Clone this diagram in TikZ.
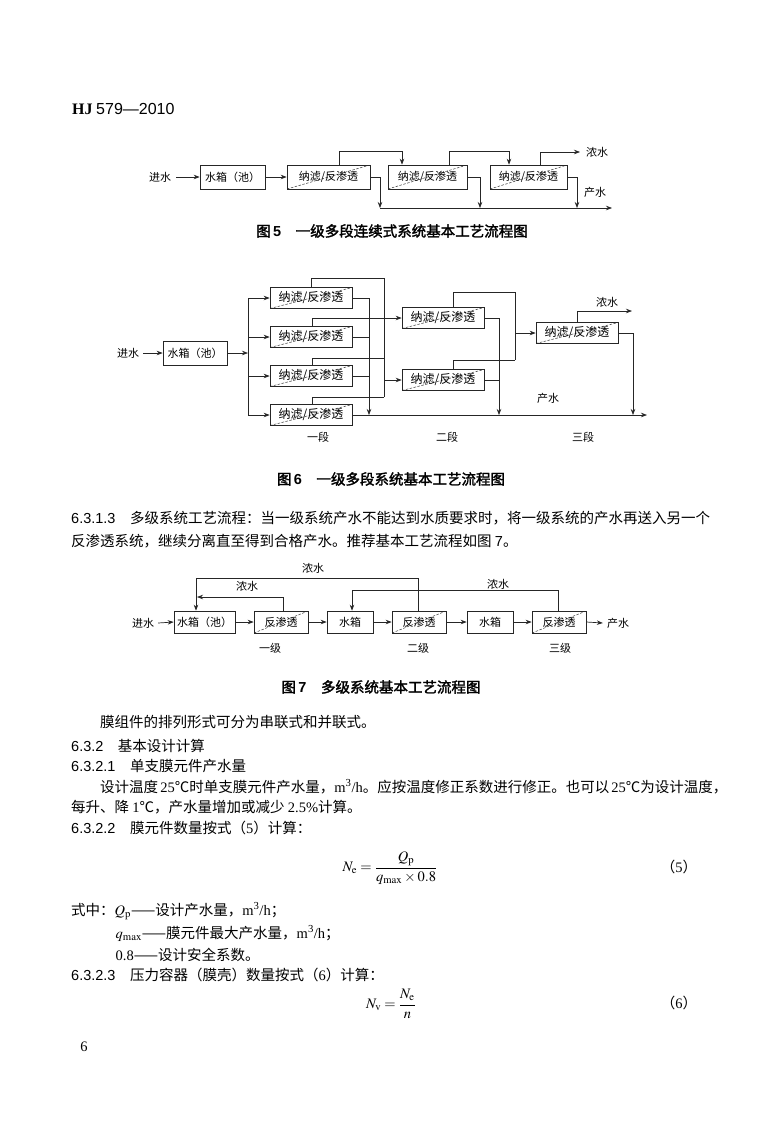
\documentclass[tikz,border=0pt]{standalone}
\usepackage{mathptmx}
\usepackage[no-math]{fontspec}
\setmainfont{Noto Sans CJK SC}
\newfontfamily\tnr{Liberation Serif}
\newfontfamily\arl{Liberation Sans}
\newfontfamily\cjkb{Noto Sans CJK SC}[FakeBold=2]
\usetikzlibrary{arrows.meta}
\XeTeXlinebreaklocale "zh"
\XeTeXlinebreakskip=0pt plus 2pt minus 0.4pt
\newcommand\dfont{\fontsize{11}{13}\selectfont}
\newcommand\efont{\fontsize{12}{14}\selectfont}
\newcommand\bfont{\fontsize{14.5}{17}\selectfont}
\tikzset{
  box/.style={draw=black!85, line width=0.7pt, minimum height=21pt, inner sep=0pt, font=\dfont},
  diagline/.style={dash pattern=on 2.5pt off 1.5pt, line width=0.5pt, draw=black!80},
  rbox/.style={box, path picture={\draw[diagline] (path picture bounding box.south west) -- (path picture bounding box.north east);}},
  sbox/.style={rbox, minimum width=82pt, font=\efont},
  arr/.style={-{Stealth[length=6pt,width=4.5pt]}, line width=0.7pt, draw=black!85},
  ln/.style={line width=0.7pt, draw=black!85},
  lbl/.style={inner sep=0pt, font=\dfont},
  txt/.style={inner sep=0pt, anchor=base west, font=\bfont},
  captxt/.style={inner sep=0pt, font=\bfont}
}
\begin{document}
\begin{tikzpicture}[x=1pt,y=-1pt]
\fill[white] (0,0) rectangle (780,1125);
\useasboundingbox (0,0) rectangle (780,1125);

% header
\node[inner sep=0pt, anchor=base west, font=\fontsize{16}{18}\selectfont] (hdr) at (72,114) {{\tnr\bfseries HJ} {\arl 579—2010}};

% ---------------- Figure 5 ----------------
\node[lbl] (in5) at (160,177) {进水};
\node[box, minimum width=65pt, minimum height=24pt] (t5) at (232.5,177) {水箱（池）};
\node[rbox, minimum width=83pt, minimum height=24pt] (b51) at (328.5,177) {纳滤/反渗透};
\node[rbox, minimum width=79pt, minimum height=24pt] (b52) at (427.5,177) {纳滤/反渗透};
\node[rbox, minimum width=77pt, minimum height=24pt] (b53) at (528.5,177) {纳滤/反渗透};
\draw[arr] ([xshift=5pt]in5.east) -- (t5.west);
\draw[arr] (t5.east) -- (b51.west);
\draw[arr] ([xshift=10.5pt]b51.north) -- ++(0,-13) -| ([xshift=-25.5pt]b52.north);
\draw[arr] ([xshift=21.5pt]b52.north) -- ++(0,-13) -| ([xshift=-19.5pt]b53.north);
\coordinate (c5) at (580,152);
\draw[arr] ([xshift=11.5pt]b53.north) |- (c5);
\coordinate (p5a) at (380,208);
\coordinate (p5b) at (480,208);
\coordinate (p5c) at (577,208);
\coordinate (p5e) at (612,208);
\draw[arr] (b51.east) -| (p5a);
\draw[arr] (b52.east) -| (p5b);
\draw[arr] (b53.east) -| (p5c);
\draw[arr] (p5a) -- (p5e);
\node[lbl] (n5) at (597,152) {浓水};
\node[lbl] (o5) at (595,192) {产水};
\node[captxt] (cap5) at (392,231) {{\cjkb 图}\,{\arl\bfseries 5}\hspace{1em}{\cjkb 一级多段连续式系统基本工艺流程图}};

% ---------------- Figure 6 ----------------
\node[lbl] (in6) at (128,353) {进水};
\node[box, minimum width=64pt, minimum height=24pt] (t6) at (195,353) {水箱（池）};
\coordinate (j6) at (248,353);
\draw[arr] ([xshift=4pt]in6.east) -- (t6.west);
\draw[arr] (t6.east) -- (j6);
\node[sbox] (a1) at (311,298) {纳滤/反渗透};
\node[sbox] (a2) at (311,337) {纳滤/反渗透};
\node[sbox] (a3) at (311,376) {纳滤/反渗透};
\node[sbox] (a4) at (311,415) {纳滤/反渗透};
\node[sbox] (b1) at (443,318) {纳滤/反渗透};
\node[sbox] (b2) at (443,380) {纳滤/反渗透};
\node[sbox] (c1) at (577,333) {纳滤/反渗透};
\draw[ln] (a1.west -| j6) -- (a4.west -| j6);
\draw[arr] (a1.west -| j6) -- (a1.west);
\draw[arr] (a2.west -| j6) -- (a2.west);
\draw[arr] (a3.west -| j6) -- (a3.west);
\draw[arr] (a4.west -| j6) -- (a4.west);
% product of stage 1
\coordinate (p6a) at (369,415);
\coordinate (p6b) at (499,415);
\coordinate (p6c) at (633,415);
\coordinate (p6e) at (647,415);
\draw[arr] (a1.east) -| (p6a);
\draw[ln] (a2.east) -- (a2.east -| p6a);
\draw[ln] (a3.east) -- (a3.east -| p6a);
\draw[arr] (a4.east) -- (p6e);
% concentrate of stage 1
\coordinate (k1) at (384,278);
\coordinate (k3) at (384,358);
\coordinate (k4) at (384,397);
\draw[ln] (a1.north) |- (k1) -- (k4);
\draw[ln] ([xshift=1pt]a3.north) |- (k3);
\draw[ln] ([xshift=1pt]a4.north) |- (k4);
\draw[arr] ([xshift=1pt]a2.north) |- (b1.west);
\draw[arr] (b2.west -| k1) -- (b2.west);
% stage 2
\coordinate (m1) at (515,292);
\coordinate (m2) at (515,360);
\draw[ln] ([xshift=10pt]b1.north) |- (m1) -- (m2);
\draw[ln] ([xshift=10pt]b2.north) |- (m2);
\draw[arr] (c1.west -| m1) -- (c1.west);
\draw[arr] (b1.east) -| (p6b);
\draw[ln] (b2.east) -- (b2.east -| p6b);
% stage 3
\coordinate (c6) at (632,311);
\draw[arr] (c1.north) |- (c6);
\draw[arr] (c1.east) -| (p6c);
\node[lbl] (n6) at (607,302) {浓水};
\node[lbl] (o6) at (548,398) {产水};
\node[lbl] (s61) at (318,437) {一段};
\node[lbl] (s62) at (447,437) {二段};
\node[lbl] (s63) at (583,437) {三段};
\node[captxt] (cap6) at (391,479) {{\cjkb 图}\,{\arl\bfseries 6}\hspace{1em}{\cjkb 一级多段系统基本工艺流程图}};

% ---------------- text ----------------
\node[txt] (l1) at (71,523) {\hbox to 637pt{{\arl 6.3.1.3}\hspace{1em}多级系统工艺流程：当一级系统产水不能达到水质要求时，将一级系统的产水再送入另一个}};
\node[txt] (l2) at (71,546) {反渗透系统，继续分离直至得到合格产水。推荐基本工艺流程如图 {\arl 7}。};

% ---------------- Figure 7 ----------------
\node[lbl] (in7) at (143,623) {进水};
\node[box, minimum width=61pt, minimum height=22pt] (d1) at (204.5,622) {水箱（池）};
\node[rbox, minimum width=54pt, minimum height=22pt] (e1) at (281,622) {反渗透};
\node[box, minimum width=46pt, minimum height=22pt] (d2) at (350,622) {水箱};
\node[rbox, minimum width=54pt, minimum height=22pt] (e2) at (419,622) {反渗透};
\node[box, minimum width=46pt, minimum height=22pt] (d3) at (490,622) {水箱};
\node[rbox, minimum width=54pt, minimum height=22pt] (e3) at (559,622) {反渗透};
\node[lbl] (out7) at (618,623) {产水};
\draw[arr] ([xshift=4pt]in7.east) -- (d1.west);
\draw[arr] (d1.east) -- (e1.west);
\draw[arr] (e1.east) -- (d2.west);
\draw[arr] (d2.east) -- (e2.west);
\draw[arr] (e2.east) -- (d3.west);
\draw[arr] (d3.east) -- (e3.west);
\draw[arr] (e3.east) -- ([xshift=-4pt]out7.west);
\coordinate (f1) at (197,597);
\coordinate (f2) at (196,578);
\coordinate (f3) at (352,590);
\draw[arr] ([xshift=2pt]e1.north) |- (f1);
\draw[arr] ([xshift=-1pt]e2.north) |- (f2) -- (f2 |- d1.north);
\draw[arr] ([xshift=-1pt]e3.north) |- (f3) -- (f3 |- d2.north);
\node[lbl] (n71) at (313,568) {浓水};
\node[lbl] (n72) at (247,586) {浓水};
\node[lbl] (n73) at (498,584) {浓水};
\node[lbl] (s71) at (270,648) {一级};
\node[lbl] (s72) at (418,648) {二级};
\node[lbl] (s73) at (560,648) {三级};
\node[captxt] (cap7) at (381,687) {{\cjkb 图}\,{\arl\bfseries 7}\hspace{1em}{\cjkb 多级系统基本工艺流程图}};

% ---------------- text ----------------
\node[txt] (l3) at (100,727) {膜组件的排列形式可分为串联式和并联式。};
\node[txt] (l4) at (71,751) {{\arl 6.3.2}\hspace{1em}基本设计计算};
\node[txt] (l5) at (71,771) {{\arl 6.3.2.1}\hspace{1em}单支膜元件产水量};
\node[txt] (l6) at (100,792) {\hbox to 608pt{设计温度 {\tnr 25}℃时单支膜元件产水量，{\tnr m\textsuperscript{3}/h}。应按温度修正系数进行修正。也可以 {\tnr 25}℃为设计温度，}};
\node[txt] (l7) at (71,812) {每升、降 {\tnr 1}℃，产水量增加或减少 {\tnr 2.5\%}计算。};
\node[txt] (l8) at (71,833) {{\arl 6.3.2.2}\hspace{1em}膜元件数量按式（{\tnr 5}）计算：};
\node[inner sep=0pt, font=\bfont] (eq5) at (390,868) {$\displaystyle N_{\rm e}=\frac{Q_{\rm p}}{q_{\max}\times 0.8}$};
\node[inner sep=0pt, font=\bfont] (eq5n) at (679,867) {（{\tnr 5}）};
\node[txt] (l9) at (71,915) {式中：{\tnr $Q_{\rm p}$}——设计产水量，{\tnr m\textsuperscript{3}/h}；};
\node[txt] (l10) at (115.5,938) {{\tnr $q_{\max}$}——膜元件最大产水量，{\tnr m\textsuperscript{3}/h}；};
\node[txt] (l11) at (115.5,960) {{\tnr 0.8}——设计安全系数。};
\node[txt] (l12) at (71,980) {{\arl 6.3.2.3}\hspace{1em}压力容器（膜壳）数量按式（{\tnr 6}）计算：};
\node[inner sep=0pt, font=\bfont] (eq6) at (391,1004) {$\displaystyle N_{\rm v}=\frac{N_{\rm e}}{n}$};
\node[inner sep=0pt, font=\bfont] (eq6n) at (679,1003) {（{\tnr 6}）};
\node[inner sep=0pt, anchor=base, font=\bfont] (pg) at (84,1051) {\tnr 6};
\end{tikzpicture}
\end{document}
